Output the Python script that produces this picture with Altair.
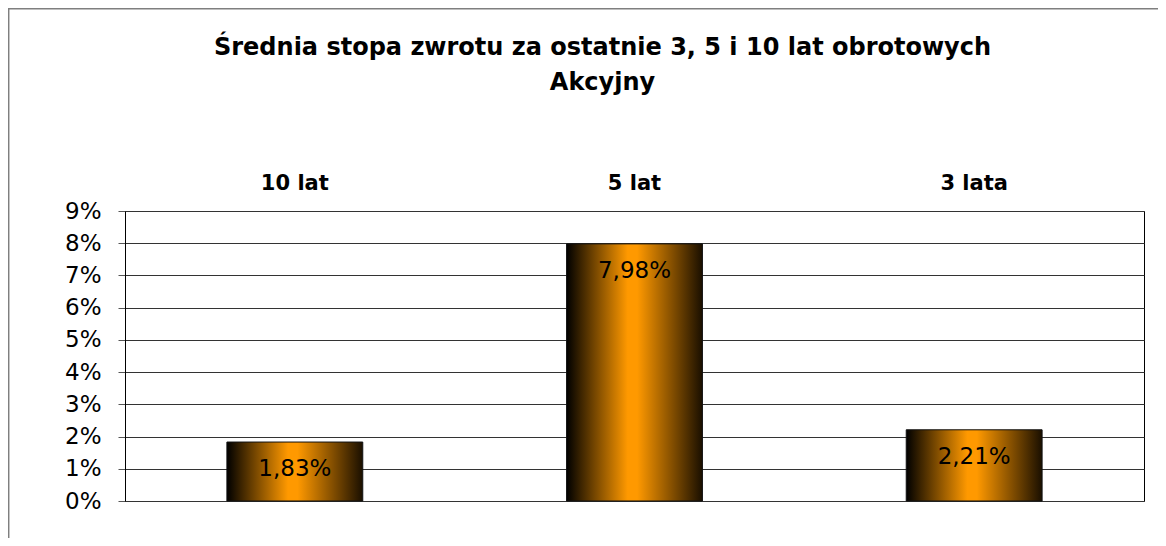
import altair as alt
import pandas as pd

categories = ["10 lat", "5 lat", "3 lata"]
values = [1.83, 7.98, 2.21]
y_ticks = [0, 1, 2, 3, 4, 5, 6, 7, 8, 9]
title_lines = ["Średnia stopa zwrotu za ostatnie 3, 5 i 10 lat obrotowych", "Akcyjny"]

FONT = "DejaVu Sans"

df = pd.DataFrame({"cat": categories, "val": values})

grad = alt.Gradient(
    gradient="linear",
    stops=[
        alt.GradientStop(color="#000000", offset=0),
        alt.GradientStop(color="#FF9900", offset=0.45),
        alt.GradientStop(color="#FF9900", offset=0.52),
        alt.GradientStop(color="#1A0F00", offset=1),
    ],
    x1=0, x2=1, y1=0, y2=0,
)

x_enc = alt.X(
    "cat:N",
    sort=categories,
    scale=alt.Scale(paddingInner=0.6, paddingOuter=0.3),
    axis=alt.Axis(
        orient="top", title=None, labelAngle=0, labelFont=FONT,
        labelFontWeight="bold", labelFontSize=21, labelColor="black",
        ticks=False, domain=False, labelPadding=18, grid=False,
    ),
)
y_enc = alt.Y(
    "val:Q",
    scale=alt.Scale(domain=[0, 9], nice=False),
    axis=alt.Axis(
        values=y_ticks, labelExpr="datum.value + '%'", title=None,
        labelFont=FONT, labelFontSize=23, labelColor="black",
        tickSize=7, tickColor="#555555", labelPadding=17,
        labelOverlap=False, tickCount=10,
        domainColor="black", grid=True, gridColor="#333333", gridOpacity=1,
    ),
)

base = alt.Chart(df)

bars = base.mark_bar(fill=grad, stroke="#111111", strokeWidth=1).encode(x=x_enc, y=y_enc)

labels = base.transform_calculate(
    lbl="replace(format(datum.val, '.2f'), '.', ',') + '%'"
).mark_text(
    dy=27, baseline="middle", align="center", fontSize=23, font=FONT, color="black"
).encode(x=x_enc, y=y_enc, text="lbl:N")

one = alt.Chart(pd.DataFrame({"a": [0]}))
frame_left = one.mark_rule(color="#7f7f7f", strokeWidth=1.5).encode(
    x=alt.value(-116.3), y=alt.value(-203), y2=alt.value(330)
)
frame_top = one.mark_rule(color="#7f7f7f", strokeWidth=1.5).encode(
    x=alt.value(-117), x2=alt.value(1035), y=alt.value(-202.3)
)

chart = alt.layer(bars, labels, frame_left, frame_top).properties(
    width=1019,
    height=290,
    autosize=alt.AutoSizeParams(type="none"),
    padding={"left": 117, "top": 203, "right": 14, "bottom": 37},
    title=alt.TitleParams(
        text=title_lines, font=FONT, fontSize=24, fontWeight="bold",
        lineHeight=35, anchor="middle", dx=-32, offset=-88, color="black",
    ),
).configure_view(stroke="black", strokeWidth=1)

chart.save("out.html", embed_options={"renderer": "svg", "actions": False})
